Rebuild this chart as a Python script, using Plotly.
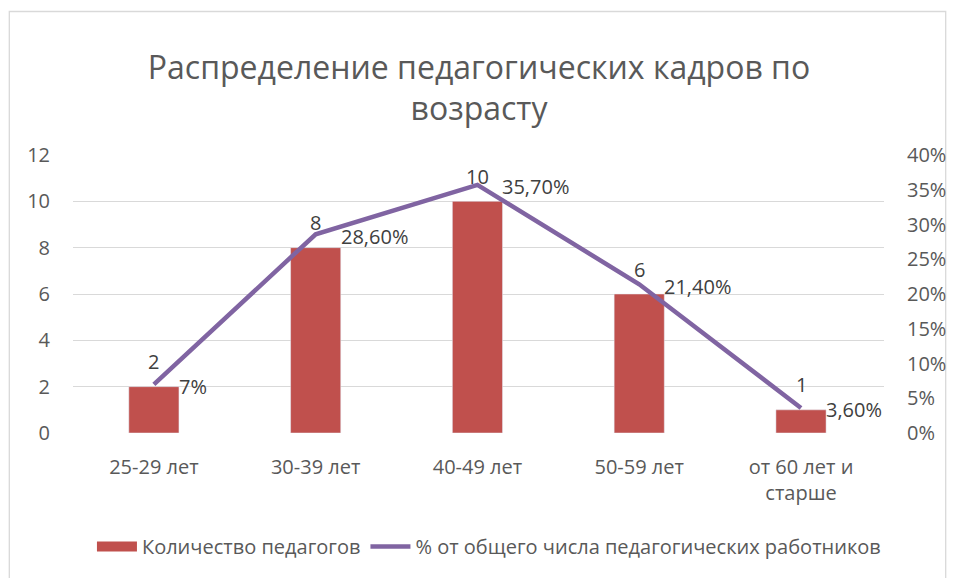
import plotly.graph_objects as go

categories = ["25-29 лет", "30-39 лет", "40-49 лет", "50-59 лет", "от 60 лет и<br>старше"]
teachers = [2, 8, 10, 6, 1]
share = [0.07, 0.286, 0.357, 0.214, 0.036]
share_labels = ["7%", "28,60%", "35,70%", "21,40%", "3,60%"]

font_name = "Open Sans"
grey = "#595959"
label_grey = "#404040"
bar_red = "#C0504D"
line_violet = "#8064A2"

fig = go.Figure()

# legend-only entry so the bar key is drawn as a wide block like in Excel
fig.add_trace(go.Scatter(
    x=[categories[0]], y=[None], mode="lines", name="Количество педагогов",
    line=dict(color=bar_red, width=15), hoverinfo="skip",
))

fig.add_trace(go.Bar(
    x=categories, y=teachers, name="Количество педагогов",
    marker_color=bar_red, width=0.31, showlegend=False,
))

fig.add_trace(go.Scatter(
    x=categories, y=share, name="% от общего числа педагогических работников",
    yaxis="y2", mode="lines",
    line=dict(color=line_violet, width=4.5),
    cliponaxis=False,
))

annotations = []
for cat, val in zip(categories, teachers):
    annotations.append(dict(
        x=cat, y=val, xref="x", yref="y", text=str(val), showarrow=False,
        yshift=25, font=dict(size=20, color=label_grey, family=font_name),
    ))
for cat, val, lab in zip(categories, share, share_labels):
    annotations.append(dict(
        x=cat, y=val, xref="x", yref="y2", text=lab, showarrow=False,
        xanchor="left", xshift=23, yshift=-2,
        font=dict(size=20, color=label_grey, family=font_name),
    ))

fig.update_layout(
    width=958, height=578,
    margin=dict(l=73, r=70, t=155, b=144),
    paper_bgcolor="white", plot_bgcolor="white",
    font=dict(family=font_name, color=grey, size=20),
    title=dict(
        text="Распределение педагогических кадров по<br>возрасту",
        x=0.5, xanchor="center", y=1 - 78.5 / 578, yanchor="middle",
        font=dict(size=32, color=grey, family=font_name),
    ),
    xaxis=dict(type="category", categoryorder="array", categoryarray=categories,
               showgrid=False, showline=False, ticks="", ticklabelstandoff=20,
               tickfont=dict(size=20, color=grey)),
    yaxis=dict(range=[0, 12], dtick=2, showgrid=True, gridcolor="#D9D9D9",
               gridwidth=1.3, zeroline=False, showline=False,
               ticklabelstandoff=22, tickfont=dict(size=20, color=grey)),
    yaxis2=dict(range=[0, 0.4], dtick=0.05, tickformat=".0%", overlaying="y",
                side="right", showgrid=False, zeroline=False, showline=False,
                ticklabelstandoff=22, tickfont=dict(size=20, color=grey)),
    showlegend=True,
    legend=dict(orientation="h", x=(491 - 73) / 815, xanchor="center",
                y=(434 - 548) / 279, yanchor="middle",
                font=dict(size=20, color=grey), itemwidth=40,
                traceorder="normal"),
    annotations=annotations,
    shapes=[dict(type="rect", xref="paper", yref="paper",
                 x0=-64 / 815, x1=1 + 62 / 815, y0=-0.6, y1=1 + 144 / 279,
                 line=dict(color="#D9D9D9", width=1.3), layer="below")],
)

fig.write_html("out.html", config={"displayModeBar": False},
               post_script="document.body.style.margin='0';")
